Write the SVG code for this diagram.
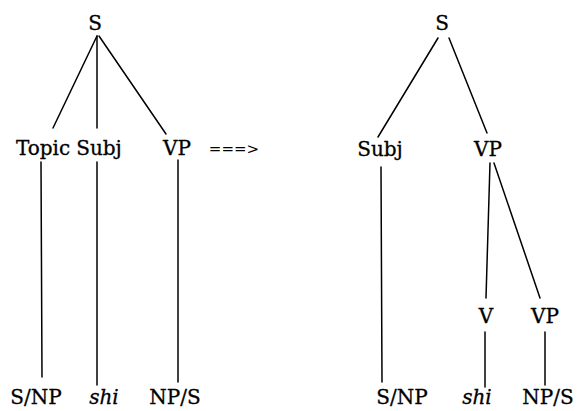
<svg xmlns="http://www.w3.org/2000/svg" width="586" height="411" viewBox="0 0 586 411">
<style>
.t{font-family:"DejaVu Serif","Liberation Serif",serif;font-size:20px;fill:#000;stroke:#000;stroke-width:0.3;text-anchor:middle}
.i{font-style:italic}
.c line{stroke:#000;stroke-width:1.5;stroke-linecap:round}
</style>
<rect width="586" height="411" fill="#fff"/>
<g class="c" id="connectors">
<line x1="97" y1="36" x2="53" y2="128"/>
<line x1="97" y1="36" x2="97" y2="128"/>
<line x1="99" y1="36" x2="166" y2="134"/>
<line x1="41" y1="162" x2="42" y2="377"/>
<line x1="97" y1="162" x2="97" y2="385"/>
<line x1="178" y1="160" x2="178" y2="382"/>
<line x1="438" y1="38" x2="378" y2="137"/>
<line x1="449" y1="38" x2="487" y2="133"/>
<line x1="381" y1="167" x2="382" y2="382"/>
<line x1="490" y1="163" x2="486" y2="298"/>
<line x1="494" y1="163" x2="540" y2="298"/>
<line x1="485" y1="332" x2="485" y2="387"/>
<line x1="545" y1="332" x2="545" y2="385"/>
</g>
<g id="l-S"><text class="t" x="95" y="30">S</text></g>
<g id="l-Topic"><text class="t" x="43" y="155">Topic</text></g>
<g id="l-Subj"><text class="t" x="99" y="155">Subj</text></g>
<g id="l-VP"><text class="t" x="177" y="155">VP</text></g>
<g id="l-SNP"><text class="t" x="36" y="404">S/NP</text></g>
<g id="l-shi"><text class="t i" x="104" y="404">shi</text></g>
<g id="l-NPS"><text class="t" x="175" y="404">NP/S</text></g>
<g id="arrow"><text class="t" x="234" y="154" style="font-size:15px;stroke-width:0">===&gt;</text></g>
<g id="r-S"><text class="t" x="442" y="30">S</text></g>
<g id="r-Subj"><text class="t" x="380" y="156">Subj</text></g>
<g id="r-VP"><text class="t" x="488" y="156">VP</text></g>
<g id="r-V"><text class="t" x="486" y="323">V</text></g>
<g id="r-VP2"><text class="t" x="545" y="323">VP</text></g>
<g id="r-SNP"><text class="t" x="402" y="404">S/NP</text></g>
<g id="r-shi"><text class="t i" x="477" y="404">shi</text></g>
<g id="r-NPS"><text class="t" x="548" y="404">NP/S</text></g>
</svg>
